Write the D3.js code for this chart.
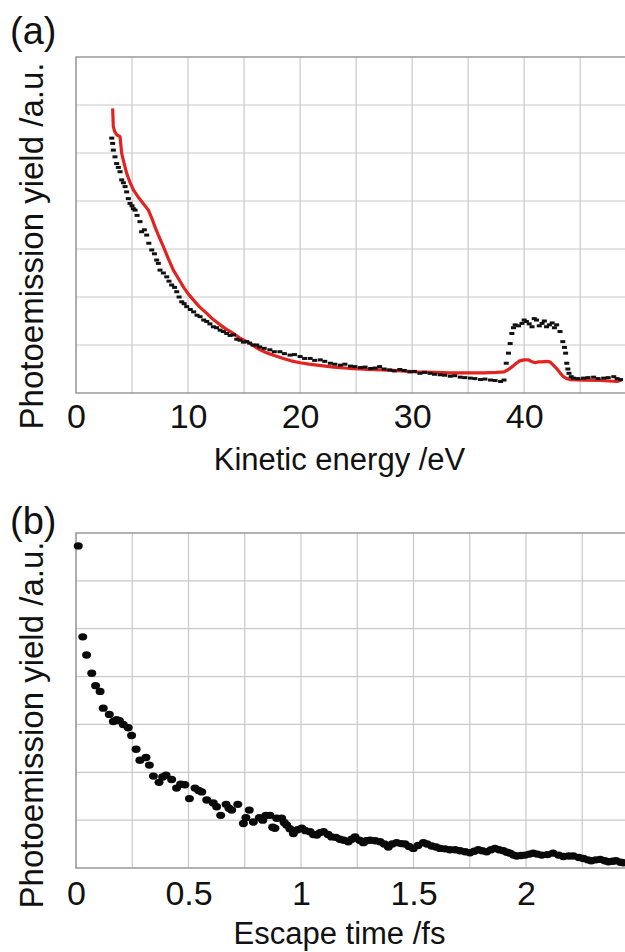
<!DOCTYPE html>
<html>
<head>
<meta charset="utf-8">
<script src="https://cdn.jsdelivr.net/npm/d3@7"></script>
<style>
  body { margin: 0; background: #fff; }
  text { font-family: "Liberation Sans", Arial, sans-serif; fill: #111; }
</style>
</head>
<body>
<script>
const width = 625;
const height = 952;

// panel (a): black measured spectrum (energy eV, yield)
const blackEnergy = [3.19,3.27,3.33,3.48,3.63,3.78,3.93,4.08,4.23,4.38,4.52,4.67,4.82,5.0,5.12,5.27,5.45,5.71,5.86,6.1,
  6.31,6.5,6.76,7.0,7.2,7.35,7.5,7.8,8.1,8.3,8.54,8.8,8.99,9.2,9.44,9.65,9.88,10.2,10.5,10.8,
  11.07,11.4,11.67,11.95,12.26,12.55,12.86,13.15,13.45,13.75,14.05,14.35,14.64,14.95,15.24,15.5,15.8,16.13,16.4,16.8,
  17.3,17.7,18.2,18.6,19.1,19.5,20.0,20.4,20.9,21.3,21.8,22.2,22.7,23.1,23.6,24.0,24.5,24.9,25.4,25.8,
  26.3,26.7,27.1,27.5,28.0,28.4,28.9,29.3,29.8,30.2,30.7,31.1,31.6,32.0,32.5,32.9,33.4,33.8,34.3,34.7,
  35.2,35.6,36.1,36.5,37.0,37.4,37.9,38.2,38.4,38.6,38.75,38.9,39.05,39.2,39.5,39.8,40.0,40.2,40.45,40.7,
  40.9,41.1,41.35,41.6,41.8,42.0,42.25,42.5,42.7,42.9,43.2,43.45,43.6,43.7,43.8,43.9,44.0,44.2,44.4,44.8,
  45.3,45.7,46.2,46.6,47.1,47.5,48.0,48.3,48.6];
const blackYield = [5.31,5.20,5.06,4.92,4.78,4.70,4.61,4.44,4.38,4.30,4.19,4.05,3.95,3.90,3.84,3.81,3.70,3.57,3.36,3.40,
  3.29,3.12,2.98,2.90,2.77,2.70,2.56,2.50,2.42,2.33,2.25,2.20,2.11,2.00,1.90,1.86,1.80,1.74,1.69,1.62,
  1.59,1.52,1.49,1.44,1.38,1.36,1.31,1.28,1.24,1.20,1.21,1.12,1.10,1.06,1.07,1.04,1.00,1.00,0.96,0.93,
  0.90,0.86,0.86,0.82,0.79,0.80,0.76,0.72,0.72,0.68,0.69,0.66,0.62,0.60,0.58,0.60,0.56,0.55,0.53,0.54,
  0.51,0.52,0.55,0.50,0.48,0.46,0.49,0.47,0.44,0.45,0.41,0.43,0.41,0.39,0.38,0.37,0.35,0.36,0.33,0.32,
  0.31,0.30,0.28,0.29,0.27,0.26,0.24,0.27,0.62,0.83,1.03,1.24,1.36,1.42,1.40,1.45,1.52,1.49,1.44,1.38,
  1.55,1.52,1.40,1.45,1.50,1.38,1.42,1.46,1.36,1.42,1.28,1.07,0.95,0.83,0.62,0.50,0.41,0.34,0.31,0.30,
  0.31,0.32,0.33,0.30,0.31,0.32,0.34,0.30,0.28];

// panel (a): red curve
const redEnergy = [3.27,3.30,3.33,3.45,3.63,3.93,4.08,4.3,4.52,4.8,5.12,5.5,6.0,6.46,6.75,7.05,7.4,7.8,8.2,8.69,
  9.1,9.58,10.0,10.47,11.0,11.67,12.2,12.86,13.4,14.05,14.6,15.24,15.8,16.43,17.0,17.7,18.5,19.2,20.0,20.8,
  21.5,23.0,24.5,26.0,27.4,29.0,30.4,32.0,33.4,35.0,36.4,37.5,38.2,38.6,39.0,39.3,39.6,40.0,40.4,40.7,
  41.0,41.3,41.6,42.0,42.3,42.6,42.9,43.2,43.5,43.8,44.1,45.3,46.8,48.3,48.7];
const redYield = [5.93,5.75,5.55,5.45,5.38,5.34,4.99,4.78,4.58,4.40,4.23,4.10,3.95,3.81,3.65,3.46,3.26,3.05,2.82,2.56,
  2.40,2.21,2.07,1.94,1.80,1.66,1.54,1.42,1.33,1.24,1.15,1.07,0.99,0.90,0.84,0.78,0.72,0.67,0.63,0.60,
  0.58,0.54,0.51,0.49,0.48,0.46,0.44,0.43,0.42,0.42,0.42,0.43,0.44,0.49,0.56,0.62,0.67,0.69,0.69,0.65,
  0.63,0.65,0.65,0.66,0.65,0.58,0.51,0.42,0.34,0.30,0.28,0.27,0.26,0.24,0.27];

// panel (b): escape time fs, yield
const escTime = [0.010,0.030,0.047,0.070,0.087,0.107,0.121,0.148,0.166,0.180,0.193,0.210,0.232,0.247,0.267,0.284,0.311,0.326,0.344,0.369,
  0.385,0.400,0.425,0.447,0.465,0.484,0.504,0.529,0.545,0.559,0.581,0.610,0.625,0.643,0.667,0.680,0.692,0.719,0.744,0.755,
  0.770,0.788,0.815,0.830,0.844,0.862,0.874,0.884,0.892,0.914,0.925,0.936,0.950,0.966,0.985,1.003,1.02,1.04,1.055,1.07,
  1.085,1.10,1.12,1.136,1.155,1.173,1.19,1.21,1.225,1.24,1.26,1.277,1.29,1.307,1.33,1.351,1.37,1.388,1.405,1.425,
  1.445,1.462,1.48,1.499,1.52,1.544,1.56,1.581,1.60,1.618,1.64,1.662,1.685,1.707,1.73,1.751,1.77,1.788,1.805,1.825,
  1.845,1.862,1.88,1.899,1.915,1.929,1.945,1.959,1.978,1.996,2.015,2.032,2.05,2.07,2.095,2.12,2.145,2.166,2.19,2.21,
  2.235,2.255,2.275,2.29,2.31,2.33,2.35,2.366,2.385,2.40,2.42,2.433];
const escYield = [6.73,4.83,4.45,4.07,3.81,3.69,3.34,3.21,3.06,3.10,3.08,3.00,2.93,2.77,2.48,2.25,2.31,2.15,1.92,1.79,
  1.90,1.94,1.85,1.67,1.75,1.74,1.45,1.67,1.62,1.59,1.42,1.36,1.28,1.10,1.33,1.25,1.21,1.33,0.93,1.05,
  1.21,0.96,1.05,1.00,1.10,1.10,0.85,0.83,1.04,1.04,0.95,0.90,0.82,0.72,0.80,0.83,0.78,0.76,0.70,0.69,
  0.74,0.76,0.70,0.65,0.64,0.60,0.58,0.55,0.60,0.65,0.58,0.53,0.57,0.58,0.57,0.55,0.50,0.44,0.50,0.53,
  0.51,0.50,0.45,0.41,0.47,0.53,0.50,0.46,0.44,0.41,0.40,0.38,0.38,0.36,0.34,0.32,0.35,0.38,0.36,0.34,
  0.38,0.41,0.38,0.36,0.33,0.31,0.27,0.25,0.26,0.27,0.29,0.31,0.29,0.27,0.28,0.31,0.27,0.24,0.25,0.25,
  0.22,0.20,0.17,0.15,0.17,0.18,0.15,0.13,0.14,0.15,0.12,0.11];

const ticksA = [0,10,20,30,40];
const ticksB = [0,0.5,1,1.5,2];

const svg = d3.select("body").append("svg")
  .attr("width", width)
  .attr("height", height);

svg.append("rect").attr("width", width).attr("height", height).attr("fill", "#fff");

function drawFrame(x, y, gridX, tickVals, tickFmt, xTitle, tag, tagY, titleY, ylabY, tickY) {
  const g = svg.append("g");
  const [x0, x1] = x.range();
  const [y0, y1] = y.range();

  g.selectAll(".vgrid").data(gridX).join("line")
    .attr("x1", d => x(d)).attr("x2", d => x(d))
    .attr("y1", y1).attr("y2", y0)
    .attr("stroke", "#c9c9c9").attr("stroke-width", 1.2);
  g.selectAll(".hgrid").data(d3.range(1, 7)).join("line")
    .attr("x1", x0).attr("x2", x1)
    .attr("y1", d => y(d)).attr("y2", d => y(d))
    .attr("stroke", "#c9c9c9").attr("stroke-width", 1.2);

  // frame: left, top, bottom
  g.append("path")
    .attr("d", `M${x1},${y1}H${x0}V${y0}H${x1}`)
    .attr("fill", "none").attr("stroke", "#999").attr("stroke-width", 1.6);

  const axis = d3.axisBottom(x).tickValues(tickVals).tickSize(0).tickFormat(tickFmt);
  const ax = svg.append("g").attr("transform", `translate(0,${tickY})`).call(axis);
  ax.select(".domain").remove();
  ax.selectAll("text")
    .attr("dy", 0).attr("y", 0)
    .style("font-size", "34px")
    .style("font-family", "'Liberation Sans', Arial, sans-serif")
    .attr("fill", "#111");

  svg.append("text")
    .attr("x", (x0 + x1) / 2 - 11).attr("y", titleY)
    .attr("text-anchor", "middle")
    .style("font-size", "31px")
    .text(xTitle);

  svg.append("text")
    .attr("transform", `translate(43,${ylabY}) rotate(-90)`)
    .attr("text-anchor", "middle")
    .style("font-size", "33px")
    .text("Photoemission yield /a.u.");

  svg.append("text")
    .attr("x", 10).attr("y", tagY)
    .style("font-size", "38px")
    .text(tag);
}

// ---- panel (a)
const xA = d3.scaleLinear().domain([0, 49]).range([76, 625]);
const yA = d3.scaleLinear().domain([0, 7]).range([393, 57]);

drawFrame(xA, yA, d3.range(5, 49, 5), ticksA, d3.format("d"),
  "Kinetic energy /eV", "(a)", 44, 470, 246, 428);

const blackA = blackEnergy.map((e, i) => ({x: e, y: blackYield[i]}));
const redA = redEnergy.map((e, i) => ({x: e, y: redYield[i]}));

svg.append("path")
  .datum(redA)
  .attr("fill", "none")
  .attr("stroke", "#e3231f")
  .attr("stroke-width", 3.2)
  .attr("stroke-linejoin", "round")
  .attr("d", d3.line().x(d => xA(d.x)).y(d => yA(d.y)));

svg.append("g").selectAll("rect").data(blackA).join("rect")
  .attr("x", d => xA(d.x) - 2.5)
  .attr("y", d => yA(d.y) - 1.5)
  .attr("width", 5).attr("height", 3)
  .attr("fill", "#111");

// ---- panel (b)
const xB = d3.scaleLinear().domain([0, 2.44]).range([76, 625]);
const yB = d3.scaleLinear().domain([0, 7]).range([868, 533]);

drawFrame(xB, yB, d3.range(0.25, 2.44, 0.25), ticksB, d => d3.format("")(d),
  "Escape time /fs", "(b)", 534, 944, 725, 905);

const dotsB = escTime.map((t, i) => ({x: t, y: escYield[i]}));
svg.append("g").selectAll("ellipse").data(dotsB).join("ellipse")
  .attr("cx", d => xB(d.x))
  .attr("cy", d => yB(d.y))
  .attr("rx", 4.5).attr("ry", 3.7)
  .attr("fill", "#0a0a0a");
</script>
</body>
</html>
